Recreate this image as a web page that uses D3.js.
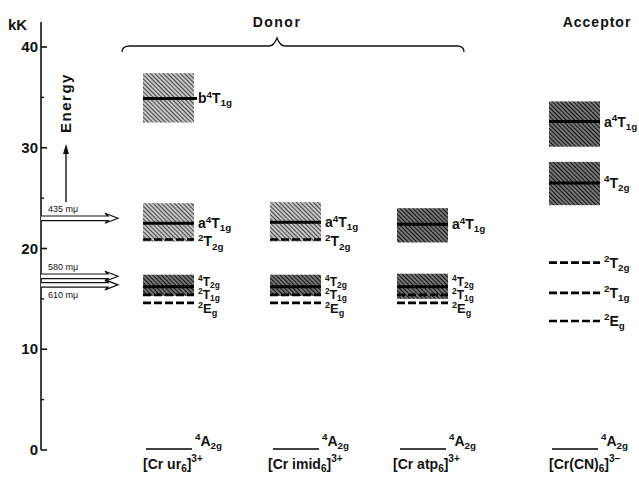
<!DOCTYPE html>
<html><head><meta charset="utf-8">
<script src="https://cdn.jsdelivr.net/npm/d3@7"></script>
<style>body{margin:0;background:#fff}text{font-family:"Liberation Sans",Arial,sans-serif;fill:#111}</style>
</head><body><svg id="c" width="639" height="479"></svg>
<script>
// ---- data ----
const yTicks = [0, 10, 20, 30, 40];
const yMinorTicks = [5, 15, 25, 35];
const complexBase = ["Cr ur", "Cr imid", "Cr atp", "Cr(CN)"];
const complexSub = ["6", "6", "6", "6"];
const complexCharge = ["3+", "3+", "3+", "3\u2212"];
const groupLabels = ["Donor", "Acceptor"];
// quartet bands: column, term [prefix, multiplicity, L, subscript], low, high, level (kK)
const bandCol   = [0, 0, 0, 1, 1, 2, 2, 3, 3];
const bandTerm  = [["b","4","T","1g"],["a","4","T","1g"],["","4","T","2g"],["a","4","T","1g"],["","4","T","2g"],["a","4","T","1g"],["","4","T","2g"],["a","4","T","1g"],["","4","T","2g"]];
const bandLow   = [32.5, 20.7, 15.3, 20.7, 15.3, 20.6, 15.0, 30.1, 24.3];
const bandHigh  = [37.4, 24.5, 17.4, 24.6, 17.4, 24.0, 17.5, 34.6, 28.6];
const bandLevel = [34.9, 22.5, 16.2, 22.6, 16.2, 22.4, 16.2, 32.6, 26.5];
// doublet levels (dashed)
const dblCol    = [0, 0, 0, 1, 1, 1, 2, 2, 3, 3, 3];
const dblTerm   = [["","2","T","2g"],["","2","T","1g"],["","2","E","g"],["","2","T","2g"],["","2","T","1g"],["","2","E","g"],["","2","T","1g"],["","2","E","g"],["","2","T","2g"],["","2","T","1g"],["","2","E","g"]];
const dblLevel  = [20.9, 15.4, 14.6, 20.9, 15.4, 14.6, 15.4, 14.6, 18.6, 15.6, 12.8];
// ground state
const groundTerm = ["","4","A","2g"];
const groundLevel = 0;
// excitation wavelengths (mμ) and their energies (kK)
const waveLabels = ["435 m\u03bc", "580 m\u03bc", "610 m\u03bc"];
const waveEnergy = [23.0, 17.24, 16.39];

// ---- drawing ----
const svg = d3.select("#c");
const y = d3.scaleLinear().domain([0, 40]).range([450, 47]);
const colX = d3.scaleOrdinal([0,1,2,3], [143, 270, 397, 549]);
const boxW = 51;
const axX = 41;

const defs = svg.append("defs");
function hatch(id, sw, bg) {
  const p = defs.append("pattern").attr("id", id).attr("patternUnits", "userSpaceOnUse")
    .attr("width", 3).attr("height", 3).attr("patternTransform", "rotate(-45)");
  p.append("rect").attr("width", 3).attr("height", 3).attr("fill", bg);
  p.append("line").attr("x1", 0).attr("y1", 0).attr("x2", 0).attr("y2", 3)
    .attr("stroke", "#111").attr("stroke-width", sw);
}
hatch("h0", 1.4, "#c4c4c4");
hatch("h1", 2.0, "#777");
const bandFill = [ "url(#h0)", "url(#h0)", "url(#h1)", "url(#h0)", "url(#h1)", "url(#h1)", "url(#h1)", "url(#h1)", "url(#h1)" ];

function term(g, x, yy, t, fs) {
  fs = fs || 13;
  const tx = g.append("text").attr("x", x).attr("y", yy).attr("font-size", fs).attr("font-weight", "bold");
  if (t[0]) tx.append("tspan").text(t[0]);
  tx.append("tspan").attr("font-size", fs*0.7).attr("dy", -fs*0.4).text(t[1]);
  tx.append("tspan").attr("dy", fs*0.4).text(t[2]);
  tx.append("tspan").attr("font-size", fs*0.7).attr("dy", fs*0.22).text(t[3]);
  return tx;
}

// axis
svg.append("line").attr("x1", axX).attr("x2", axX).attr("y1", 22).attr("y2", y(0))
  .attr("stroke", "#111").attr("stroke-width", 1.6);
yTicks.forEach(v => {
  svg.append("line").attr("x1", axX).attr("x2", axX+6).attr("y1", y(v)).attr("y2", y(v)).attr("stroke", "#111").attr("stroke-width", 1.6);
  svg.append("text").attr("x", axX-3).attr("y", y(v)+5).attr("text-anchor", "end").attr("font-size", 15).attr("font-weight", "bold").text(v);
});
yMinorTicks.forEach(v => {
  svg.append("line").attr("x1", axX).attr("x2", axX+3).attr("y1", y(v)).attr("y2", y(v)).attr("stroke", "#111").attr("stroke-width", 1.4);
});
svg.append("text").attr("x", 8).attr("y", 30).attr("font-size", 15).attr("font-weight", "bold").text("kK");

// Energy arrow
svg.append("line").attr("x1", 66).attr("x2", 66).attr("y1", 202).attr("y2", 152).attr("stroke", "#111").attr("stroke-width", 1.4);
svg.append("path").attr("d", "M66,144 L63,154 L69,154 Z").attr("fill", "#111");
svg.append("text").attr("transform", "translate(71,103) rotate(-90)").attr("text-anchor", "middle")
  .attr("font-size", 15).attr("font-weight", "bold").attr("letter-spacing", 1.5).text("Energy");

// excitation arrows
waveEnergy.forEach((e, i) => {
  const yy = y(e);
  svg.append("path").attr("d", `M${axX},${yy-2.3} L108,${yy-2.3} L105,${yy-5} L118,${yy} L105,${yy+5} L108,${yy+2.3} L${axX},${yy+2.3}`)
    .attr("fill", "#fff").attr("stroke", "#111").attr("stroke-width", 1.2);
  const ly = i === 2 ? yy + 13 : yy - 6;
  svg.append("text").attr("x", 48).attr("y", ly).attr("font-size", 9).text(waveLabels[i]);
});

// group headers + brace
svg.append("text").attr("x", 277).attr("y", 27).attr("text-anchor", "middle").attr("font-size", 14).attr("font-weight", "bold").attr("letter-spacing", 1.5).text(groupLabels[0]);
svg.append("text").attr("x", 597).attr("y", 27).attr("text-anchor", "middle").attr("font-size", 14).attr("font-weight", "bold").attr("letter-spacing", 1).text(groupLabels[1]);
svg.append("path").attr("d", "M122,52 Q122,46 130,46 L269,46 Q274,46 277,38 Q280,46 285,46 L457,46 Q464,46 464,52")
  .attr("fill", "none").attr("stroke", "#111").attr("stroke-width", 1.3);

// bands
bandCol.forEach((c, i) => {
  const x0 = colX(c);
  svg.append("rect").attr("x", x0).attr("y", y(bandHigh[i])).attr("width", boxW).attr("height", y(bandLow[i]) - y(bandHigh[i]))
    .attr("fill", bandFill[i]);
  svg.append("line").attr("x1", x0).attr("x2", x0 + boxW + (i===0?3:0)).attr("y1", y(bandLevel[i])).attr("y2", y(bandLevel[i]))
    .attr("stroke", "#000").attr("stroke-width", 3);
});

// doublets
dblCol.forEach((c, i) => {
  const x0 = colX(c);
  svg.append("line").attr("x1", x0).attr("x2", x0 + boxW).attr("y1", y(dblLevel[i])).attr("y2", y(dblLevel[i]))
    .attr("stroke", "#000").attr("stroke-width", 2.6).attr("stroke-dasharray", "8,3");
});

// labels for bands
bandCol.forEach((c, i) => {
  const x0 = colX(c) + boxW + 4;
  let ly = y(bandLevel[i]) + 5, fs = 14;
  if (bandTerm[i][3] === "2g" && c < 3) { ly = y(bandLevel[i]) - 1; fs = 12; }
  term(svg, x0, ly, bandTerm[i], fs);
});
dblCol.forEach((c, i) => {
  const x0 = colX(c) + boxW + 4;
  let ly = y(dblLevel[i]) + 5, fs = 14;
  if (c < 3 && dblTerm[i][2] === "T" && dblTerm[i][3] === "1g") { ly = y(dblLevel[i]) + 4; fs = 12; }
  if (c < 3 && dblTerm[i][2] === "E") { ly = y(dblLevel[i]) + 10; fs = 13; }
  if (c < 3 && dblTerm[i][3] === "2g" && dblTerm[i][2] === "T") ly = y(dblLevel[i]) + 7;
  term(svg, x0, ly, dblTerm[i], fs);
});

// ground states + complex names
[0,1,2,3].forEach(c => {
  const x0 = colX(c) + 3;
  svg.append("line").attr("x1", x0).attr("x2", x0 + 46).attr("y1", y(groundLevel) - 1).attr("y2", y(groundLevel) - 1)
    .attr("stroke", "#000").attr("stroke-width", 1.6);
  term(svg, x0 + 49, y(groundLevel) - 4, groundTerm, 14);
  const tx = svg.append("text").attr("x", colX(c) + (c===1?-2:(c===2?-4:0))).attr("y", 469).attr("font-size", 14).attr("font-weight", "bold");
  tx.append("tspan").text("[" + complexBase[c]);
  tx.append("tspan").attr("font-size", 10).attr("dy", 3).text(complexSub[c]);
  tx.append("tspan").attr("dy", -3).text("]");
  tx.append("tspan").attr("font-size", 10).attr("dy", -7).text(complexCharge[c]);
});
</script></body></html>
